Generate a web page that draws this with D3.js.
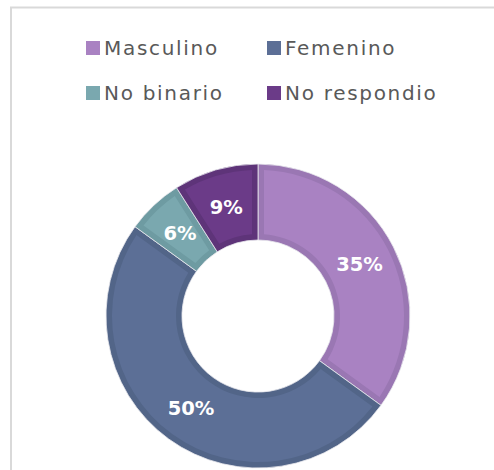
<!DOCTYPE html>
<html><head><meta charset="utf-8">
<script src="https://cdn.jsdelivr.net/npm/d3@7"></script>
<style>
html,body{margin:0;padding:0;background:#fff;}
svg{display:block;}
</style>
</head><body>
<svg id="c" width="494" height="470"></svg>
<script>
const categories = ["Masculino", "Femenino", "No binario", "No respondio"];
const values = [35, 50, 6, 9];
const labels = ["35%", "50%", "6%", "9%"];
const fillColors = ["#a982c2", "#5c6f96", "#7aa8af", "#6b3b88"];
const borderColors = ["#9a77b3", "#526588", "#6e9ba2", "#5e3479"];

const svg = d3.select("#c");

// chart frame
svg.append("rect").attr("x", 11).attr("y", 7.5).attr("width", 500).attr("height", 500)
  .attr("fill", "#fff").attr("stroke", "#d9d9d9").attr("stroke-width", 2);

const cx = 258, cy = 316, R = 152, r = 76, inset = 6;
const pie = d3.pie().sort(null).value(d => d)(values);
const outerArc = d3.arc().innerRadius(r).outerRadius(R);
const innerArc = d3.arc().innerRadius(r + inset).outerRadius(R - inset)
  .padAngle(inset * 2 / 100).padRadius(100);
const labelArc = d3.arc().innerRadius(r).outerRadius(R);

const g = svg.append("g").attr("transform", `translate(${cx},${cy})`);
g.selectAll("path.o").data(pie).join("path").attr("class", "o")
  .attr("d", outerArc).attr("fill", (d, i) => borderColors[i])
  .attr("stroke", "#e8e8ee").attr("stroke-width", 0.8);
g.selectAll("path.i").data(pie).join("path").attr("class", "i")
  .attr("d", innerArc).attr("fill", (d, i) => fillColors[i]);
g.selectAll("text").data(pie).join("text")
  .attr("transform", d => `translate(${labelArc.centroid(d)})`)
  .attr("text-anchor", "middle").attr("dy", "0.36em")
  .attr("fill", "#fff").attr("font-family", "'DejaVu Sans', sans-serif")
  .attr("font-weight", "bold").attr("font-size", 19.5)
  .text((d, i) => labels[i]);

// legend
const legPos = [[86, 55], [267, 55], [86, 100], [267, 100]];
const leg = svg.append("g");
categories.forEach((c, i) => {
  const [x, y] = legPos[i];
  leg.append("rect").attr("x", x).attr("y", y - 14).attr("width", 14).attr("height", 14)
    .attr("fill", fillColors[i]);
  leg.append("text").attr("x", x + 18).attr("y", y)
    .attr("font-family", "'DejaVu Sans', sans-serif").attr("font-size", 20)
    .attr("letter-spacing", 1.7)
    .attr("fill", "#595959").text(c);
});
</script>
</body></html>
